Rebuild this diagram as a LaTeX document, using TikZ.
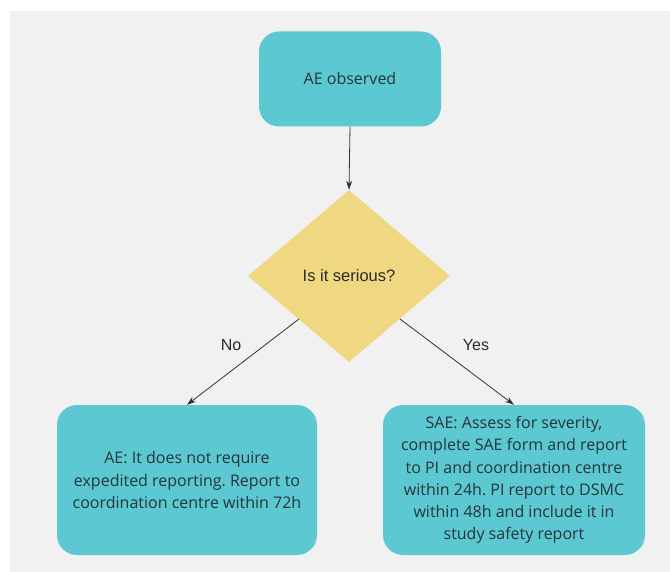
\documentclass[tikz,border=0pt]{standalone}
\usepackage{fontspec}
\setmainfont{Open Sans}
\newfontfamily\arialf{Liberation Sans}
\usetikzlibrary{shapes.geometric,arrows.meta}
\frenchspacing
\definecolor{bg}{HTML}{F1F1F1}
\definecolor{teal}{HTML}{5CC8D2}
\definecolor{gold}{HTML}{F0D882}
\definecolor{txt}{HTML}{253638}
\definecolor{txtb}{HTML}{2A2A2A}
\tikzset{
  box/.style={draw=none,fill=teal,rounded corners=20pt,align=center,text=txt,
    font=\frenchspacing\fontsize{16}{22.2}\selectfont,inner sep=0pt},
  decision/.style={diamond,fill=gold,draw=none,text=txtb,inner sep=0pt,
    minimum width=202pt,minimum height=172pt,font=\arialf\fontsize{16.5}{18}\selectfont},
  conn/.style={draw=black!80,line width=0.8pt,-{Stealth[length=9pt,width=6pt]}},
  lbl/.style={text=txtb,font=\arialf\fontsize{16}{18}\selectfont}
}
\begin{document}
\begin{tikzpicture}[x=1pt,y=-1pt]
\useasboundingbox (0,0) rectangle (670,572);
\fill[bg] (10,11) rectangle (670,572);
\node[box,minimum width=182pt,minimum height=95pt] (ae) at (350,79) {AE observed};
\node[decision] (q) at (349,276) {Is it serious?};
\node[box,minimum width=260pt,minimum height=150pt] (no) at (187,480)
  {AE: It does not require\\expedited reporting. Report to\\coordination centre within 72h};
\node[box,minimum width=262pt,minimum height=150pt] (yes) at (514,480)
  {SAE: Assess for severity,\\complete SAE form and report\\to PI and coordination centre\\within 24h. PI report to DSMC\\within 48h and include it in\\study safety report};
\draw[conn] (ae.south) -- (q.north);
\coordinate (qsw) at (299,319);
\coordinate (qse) at (400,319);
\draw[conn] (qsw) -- (no.north);
\draw[conn] (qse) -- (yes.north);
\node[lbl] (nolbl) at (231,345) {No};
\node[lbl] (yeslbl) at (476,345) {Yes};
\end{tikzpicture}
\end{document}
